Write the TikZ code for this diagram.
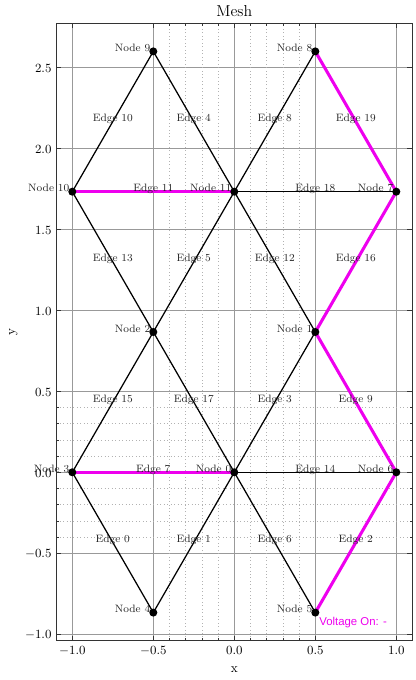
\documentclass[tikz,border=0pt]{standalone}
\usepackage{fontspec}
\newfontfamily\voltfont{Liberation Sans}
\usetikzlibrary{backgrounds}
\definecolor{volton}{RGB}{238,0,238}

\begin{document}
\begin{tikzpicture}[x=116.64pt, y=116.64pt,
    nd/.style={circle, fill=black, inner sep=0pt, minimum size=5.8pt},
    ed/.style={black, line width=0.9pt},
    eon/.style={volton, line width=2.2pt},
    el/.style={anchor=base, inner sep=0pt, text=black!85, font=\fontsize{7.7}{9}\selectfont},
    nl/.style={anchor=base east, inner sep=0pt, xshift=-2pt, text=black!85, font=\fontsize{7.7}{9}\selectfont},
    tk/.style={inner sep=0pt, font=\fontsize{9.5}{11}\selectfont},
    gmaj/.style={black!40, line width=0.6pt},
    gmin/.style={black!30, line width=0.5pt, dotted}
]
\useasboundingbox (-1.4463,-1.2821) rectangle (1.1216,2.9154);

% mesh nodes
\node[nd] (n0) at (0,0) {};
\node[nd] (n1) at (0.5,0.8660) {};
\node[nd] (n2) at (-0.5,0.8660) {};
\node[nd] (n3) at (-1,0) {};
\node[nd] (n4) at (-0.5,-0.8660) {};
\node[nd] (n5) at (0.5,-0.8660) {};
\node[nd] (n6) at (1,0) {};
\node[nd] (n7) at (1,1.7321) {};
\node[nd] (n8) at (0.5,2.5981) {};
\node[nd] (n9) at (-0.5,2.5981) {};
\node[nd] (n10) at (-1,1.7321) {};
\node[nd] (n11) at (0,1.7321) {};

\begin{scope}[on background layer]
% grid
\foreach \gx in {-1,-0.5,0,0.5,1}
    \draw[gmaj] (\gx,-1.0392) -- (\gx,2.7713);
\foreach \gy in {-1,-0.5,0,0.5,1,1.5,2,2.5}
    \draw[gmaj] (-1.1,\gy) -- (1.1,\gy);
\foreach \gm in {-0.4,-0.3,-0.2,-0.1,0.1,0.2,0.3,0.4} {
    \draw[gmin] (\gm,-1.0392) -- (\gm,2.7713);
    \draw[gmin] (-1.1,\gm) -- (1.1,\gm);
}

% edges
\draw[ed] (n3.center) -- node[el] (e0) {Edge 0} (n4.center);
\draw[ed] (n0.center) -- node[el] (e1) {Edge 1} (n4.center);
\draw[ed] (n0.center) -- node[el] (e3) {Edge 3} (n1.center);
\draw[ed] (n9.center) -- node[el] (e4) {Edge 4} (n11.center);
\draw[ed] (n2.center) -- node[el] (e5) {Edge 5} (n11.center);
\draw[ed] (n0.center) -- node[el] (e6) {Edge 6} (n5.center);
\draw[ed] (n11.center) -- node[el] (e8) {Edge 8} (n8.center);
\draw[ed] (n10.center) -- node[el] (e10) {Edge 10} (n9.center);
\draw[ed] (n11.center) -- node[el] (e12) {Edge 12} (n1.center);
\draw[ed] (n10.center) -- node[el] (e13) {Edge 13} (n2.center);
\draw[ed] (n0.center) -- node[el] (e14) {Edge 14} (n6.center);
\draw[ed] (n3.center) -- node[el] (e15) {Edge 15} (n2.center);
\draw[ed] (n2.center) -- node[el] (e17) {Edge 17} (n0.center);
\draw[ed] (n11.center) -- node[el] (e18) {Edge 18} (n7.center);
% edges with voltage on
\draw[eon] (n6.center) -- node[el] (e2) {Edge 2} (n5.center);
\draw[eon] (n3.center) -- node[el] (e7) {Edge 7} (n0.center);
\draw[eon] (n1.center) -- node[el] (e9) {Edge 9} (n6.center);
\draw[eon] (n10.center) -- node[el] (e11) {Edge 11} (n11.center);
\draw[eon] (n1.center) -- node[el] (e16) {Edge 16} (n7.center);
\draw[eon] (n8.center) -- node[el] (e19) {Edge 19} (n7.center);
\end{scope}

% node labels
\node[nl] (l0) at (n0.center) {Node 0};
\node[nl] (l1) at (n1.center) {Node 1};
\node[nl] (l2) at (n2.center) {Node 2};
\node[nl] (l3) at (n3.center) {Node 3};
\node[nl] (l4) at (n4.center) {Node 4};
\node[nl] (l5) at (n5.center) {Node 5};
\node[nl] (l6) at (n6.center) {Node 6};
\node[nl] (l7) at (n7.center) {Node 7};
\node[nl] (l8) at (n8.center) {Node 8};
\node[nl] (l9) at (n9.center) {Node 9};
\node[nl] (l10) at (n10.center) {Node 10};
\node[nl] (l11) at (n11.center) {Node 11};

\node[anchor=north west, inner sep=0pt, text=volton, font=\voltfont\fontsize{8.2}{10}\selectfont,
      xshift=2.7pt, yshift=-2.9pt] (volt) at (n5.center) {Voltage On: -};

% frame and ticks
\draw[black!80, line width=0.6pt] (-1.1,-1.0392) rectangle (1.1,2.7713);
\foreach \tx in {-1,-0.5,0,0.5,1} {
    \draw[black!80, line width=0.5pt] (\tx,-1.0392) -- ++(0,0.031);
    \draw[black!80, line width=0.5pt] (\tx,2.7713) -- ++(0,-0.031);
}
\foreach \ty in {-1,-0.5,0,0.5,1,1.5,2,2.5} {
    \draw[black!80, line width=0.5pt] (-1.1,\ty) -- ++(0.031,0);
    \draw[black!80, line width=0.5pt] (1.1,\ty) -- ++(-0.031,0);
}
\foreach \tm in {-0.4,-0.3,-0.2,-0.1,0.1,0.2,0.3,0.4} {
    \draw[black!80, line width=0.4pt] (\tm,-1.0392) -- ++(0,0.017);
    \draw[black!80, line width=0.4pt] (\tm,2.7713) -- ++(0,-0.017);
    \draw[black!80, line width=0.4pt] (-1.1,\tm) -- ++(0.017,0);
    \draw[black!80, line width=0.4pt] (1.1,\tm) -- ++(-0.017,0);
}

% tick labels
\foreach \tx/\tl [count=\i] in {-1/$-1.0$, -0.5/$-0.5$, 0/$0.0$, 0.5/$0.5$, 1/$1.0$}
    \node[tk, anchor=base] (xt\i) at (\tx,-1.1216) {\tl};
\foreach \ty/\tl [count=\i] in {-1/$-1.0$, -0.5/$-0.5$, 0/$0.0$, 0.5/$0.5$, 1/$1.0$, 1.5/$1.5$, 2/$2.0$, 2.5/$2.5$}
    \node[tk, anchor=east, yshift=-0.8pt] (yt\i) at (-1.127,\ty) {\tl};

% axis labels and title
\node[tk, anchor=base] (xlab) at (0,-1.237) {x};
\node[tk, anchor=base, rotate=90] (ylab) at (-1.355,0.866) {y};
\node[inner sep=0pt, anchor=base, font=\fontsize{11.4}{13}\selectfont] (title) at (0,2.812) {Mesh};
\end{tikzpicture}
\end{document}
